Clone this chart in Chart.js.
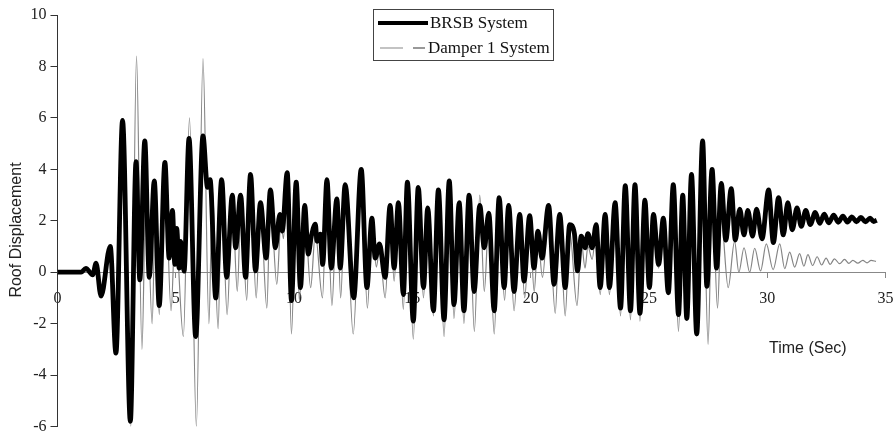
<!DOCTYPE html>
<html><head><meta charset="utf-8">
<script src="https://cdn.jsdelivr.net/npm/chart.js@4"></script>
<style>html,body{margin:0;padding:0;background:#fff}#wrap{width:895px;height:436px;position:relative}</style>
</head><body><div id="wrap"><canvas id="c" width="895" height="436"></canvas></div>
<script>
// Time (sec) and roof displacement, BRSB system
const brsbTime = [0,1.0,1.2,1.49,1.63,1.84,2.23,2.47,2.75,3.08,3.32,3.48,3.69,3.88,4.09,4.3,4.54,4.72,4.86,4.96,5.04,5.14,5.21,5.35,5.56,5.84,6.15,6.34,6.45,6.69,6.94,7.15,7.39,7.53,7.74,7.95,8.16,8.37,8.58,8.82,9.0,9.21,9.4,9.5,9.71,9.89,10.09,10.27,10.45,10.6,10.73,10.9,10.97,11.11,11.21,11.39,11.57,11.81,11.95,12.16,12.52,12.84,13.08,13.29,13.43,13.61,13.85,14.06,14.23,14.41,14.62,14.79,15.04,15.25,15.47,15.65,15.89,16.1,16.34,16.56,16.76,16.98,17.18,17.4,17.61,17.85,18.04,18.23,18.46,18.67,18.88,19.07,19.3,19.54,19.72,19.96,20.14,20.31,20.48,20.76,20.99,21.23,21.46,21.65,21.85,21.98,22.14,22.3,22.42,22.6,22.77,22.94,23.15,23.33,23.57,23.8,24.0,24.22,24.41,24.62,24.83,25.02,25.19,25.41,25.61,25.82,26.03,26.25,26.43,26.6,26.8,27.02,27.27,27.45,27.67,27.86,28.06,28.25,28.48,28.65,28.84,29.02,29.18,29.38,29.55,29.78,30.06,30.26,30.48,30.68,30.87,31.06,31.26,31.44,31.63,31.82,32.03,32.22,32.41,32.6,32.81,33.0,33.2,33.39,33.58,33.77,33.96,34.15,34.35,34.5,34.63];
const brsbDisp = [0,0,0.15,-0.1,0.35,-0.93,1.0,-3.15,5.9,-5.8,4.3,-0.3,5.1,-0.2,3.55,-1.3,4.27,0.55,2.4,0.3,1.7,0.16,1.2,0.04,5.2,-2.5,5.3,3.3,3.6,-1.0,3.6,-0.2,3.0,0.95,3.0,-0.2,3.8,0.05,2.7,0.55,3.2,0.95,2.25,1.6,3.87,-1.1,3.5,-0.6,2.6,0.7,1.4,1.87,1.2,1.48,0.3,3.6,0.16,2.85,0.16,3.4,-1.0,4.0,-0.6,2.1,0.55,1.1,-0.2,2.6,0.16,2.7,-0.87,3.5,-1.9,3.3,-0.6,2.5,-1.5,3.2,-1.85,3.55,-1.26,2.7,-1.5,3.0,-0.75,2.6,0.95,2.3,-1.5,2.9,-0.6,2.6,-0.75,2.25,-0.35,2.2,0.16,1.6,0.55,2.6,-0.47,2.25,-0.6,1.85,1.5,0.05,1.4,0.95,1.5,0.95,1.85,-0.6,2.25,-0.6,2.7,-1.4,3.36,-1.5,3.4,-1.6,2.8,-0.6,2.25,0.3,2.1,-0.8,3.4,-1.65,3.0,-1.8,3.8,-2.4,5.1,-0.55,4.0,0.16,3.45,1.25,3.25,1.25,2.45,1.45,2.4,1.4,2.45,1.3,3.2,1.15,2.9,1.45,2.7,1.65,2.5,1.78,2.4,1.85,2.32,1.9,2.26,1.92,2.22,1.94,2.18,1.95,2.15,1.96,2.13,1.96,2.1,1.97,2.02];

// Damper 1 system
const damperTime = [0,1.0,1.2,1.49,1.63,1.84,2.23,2.47,2.75,3.1,3.34,3.57,3.75,4.0,4.15,4.3,4.54,4.8,4.98,5.32,5.58,5.87,6.15,6.4,6.55,6.79,6.94,7.17,7.39,7.6,7.76,8.0,8.16,8.4,8.58,8.85,9.0,9.27,9.45,9.55,9.71,9.89,10.09,10.22,10.45,10.7,10.9,11.2,11.39,11.6,11.81,11.97,12.16,12.5,12.84,13.1,13.29,13.48,13.61,13.85,14.06,14.23,14.41,14.62,14.79,15.04,15.25,15.47,15.65,15.89,16.1,16.34,16.56,16.76,16.98,17.18,17.4,17.62,17.85,18.04,18.23,18.46,18.67,18.9,19.07,19.3,19.54,19.75,19.96,20.15,20.31,20.5,20.76,21.04,21.23,21.46,21.65,21.96,22.14,22.3,22.42,22.6,22.77,22.94,23.15,23.33,23.57,23.8,24.0,24.22,24.41,24.62,24.83,25.02,25.19,25.41,25.61,25.82,26.03,26.25,26.43,26.62,26.8,27.02,27.27,27.5,27.68,27.9,28.06,28.35,28.62,28.8,29.02,29.26,29.47,29.72,29.96,30.25,30.53,30.74,30.95,31.16,31.37,31.55,31.72,31.92,32.11,32.3,32.49,32.66,32.84,33.06,33.27,33.45,33.62,33.83,34.04,34.22,34.39,34.6];
const damperDisp = [0,0,0.15,-0.1,0.35,-0.93,1.0,-3.2,5.8,-6.0,8.4,-3.0,4.0,-2.0,3.0,-1.65,4.0,-1.5,1.8,-2.5,6.0,-6.0,8.3,-2.0,3.2,-2.2,3.3,-1.65,2.8,-0.75,2.8,-1.1,3.5,-1.0,2.5,-1.4,2.9,-0.47,2.0,1.3,3.6,-2.4,3.2,-1.1,2.3,-0.6,1.5,-1.0,3.3,-1.3,2.6,-1.0,3.1,-2.4,3.8,-1.4,1.8,0.2,0.9,-1.0,2.3,-0.35,2.4,-1.45,3.2,-2.6,3.0,-1.0,2.2,-1.7,2.9,-2.5,3.3,-1.8,2.4,-2.0,2.7,-2.3,3.0,-0.75,2.0,-2.4,2.6,-1.1,2.3,-1.5,2.0,-1.0,1.9,-0.75,1.3,-0.2,2.3,-1.6,2.0,-1.7,1.6,-1.3,1.2,0.16,1.0,0.5,1.6,-0.87,2.0,-0.87,2.4,-1.7,3.1,-1.85,3.1,-1.9,2.5,-0.47,1.9,0.16,1.7,-0.87,3.0,-2.3,2.7,-1.85,3.5,-2.5,4.8,-2.8,3.0,-1.4,2.0,-0.6,1.2,0.0,0.95,0.0,0.93,0.05,1.1,0.1,1.1,0.14,0.78,0.2,0.72,0.23,0.68,0.26,0.6,0.28,0.55,0.3,0.52,0.33,0.5,0.34,0.46,0.35,0.46,0.36,0.46,0.42];

const xTicksStep = 5, yTicksStep = 2;
const legendLabels = ['BRSB System', 'Damper 1 System'];
const xTitle = 'Time (Sec)', yTitle = 'Roof Displacement';

const toXY = (t, v) => t.map((x, i) => ({x, y: v[i]}));

const decor = {
  id: 'decor',
  afterDraw(chart) {
    const ctx = chart.ctx;
    ctx.save();
    // legend box
    ctx.strokeStyle = '#444'; ctx.lineWidth = 1;
    ctx.strokeRect(373.5, 9.5, 180, 51);
    ctx.strokeStyle = '#000'; ctx.lineWidth = 4;
    ctx.beginPath(); ctx.moveTo(378, 23); ctx.lineTo(428, 23); ctx.stroke();
    ctx.strokeStyle = '#9a9a9a'; ctx.lineWidth = 1.2;
    ctx.beginPath(); ctx.moveTo(380, 48); ctx.lineTo(403, 48); ctx.stroke();
    ctx.strokeStyle = '#555';
    ctx.beginPath(); ctx.moveTo(413, 48); ctx.lineTo(425, 48); ctx.stroke();
    ctx.fillStyle = '#111';
    ctx.font = '17px "Liberation Serif", "Times New Roman", serif';
    ctx.textBaseline = 'middle'; ctx.textAlign = 'left';
    ctx.fillText(legendLabels[0], 430, 24);
    ctx.fillText(legendLabels[1], 428, 49);
    // axis titles
    ctx.font = '16px "Liberation Sans", Arial, sans-serif';
    ctx.fillStyle = '#222';
    ctx.fillText(xTitle, 769, 349);
    ctx.translate(17, 230); ctx.rotate(-Math.PI / 2);
    ctx.textAlign = 'center';
    ctx.fillText(yTitle, 0, 0);
    ctx.restore();
  }
};

new Chart(document.getElementById('c'), {
  type: 'line',
  data: {
    datasets: [
      {label: legendLabels[0], data: toXY(brsbTime, brsbDisp), borderColor: '#000', borderWidth: 4.8,
       pointRadius: 0, cubicInterpolationMode: 'monotone', fill: false},
      {label: legendLabels[1], data: toXY(damperTime, damperDisp), borderColor: '#858585', borderWidth: 1.2,
       pointRadius: 0, cubicInterpolationMode: 'monotone', fill: false}
    ]
  },
  options: {
    responsive: false, animation: false, events: [],
    layout: {padding: {left: 0, top: 15, right: 0, bottom: 9.5}},
    plugins: {legend: {display: false}, tooltip: {enabled: false}},
    scales: {
      x: {type: 'linear', min: 0, max: 35, position: {y: 0},
          ticks: {stepSize: xTicksStep, maxRotation: 0, padding: 12, color: '#222',
                  font: {family: '"Liberation Serif", "Times New Roman", serif', size: 16}},
          grid: {drawOnChartArea: false, tickLength: 5, color: '#888'},
          border: {color: '#888', width: 1},
          afterFit: s => { s.paddingRight = 9.5; s.paddingLeft = 0; }},
      y: {type: 'linear', min: -6, max: 10,
          ticks: {stepSize: yTicksStep, padding: 4, color: '#222',
                  font: {family: '"Liberation Serif", "Times New Roman", serif', size: 16}},
          grid: {drawOnChartArea: false, tickLength: 7, color: '#333'},
          border: {color: '#333', width: 1},
          afterFit: s => { s.width = 57.5; s.paddingTop = 0; s.paddingBottom = 0; }}
    }
  },
  plugins: [decor]
});
</script></body></html>
